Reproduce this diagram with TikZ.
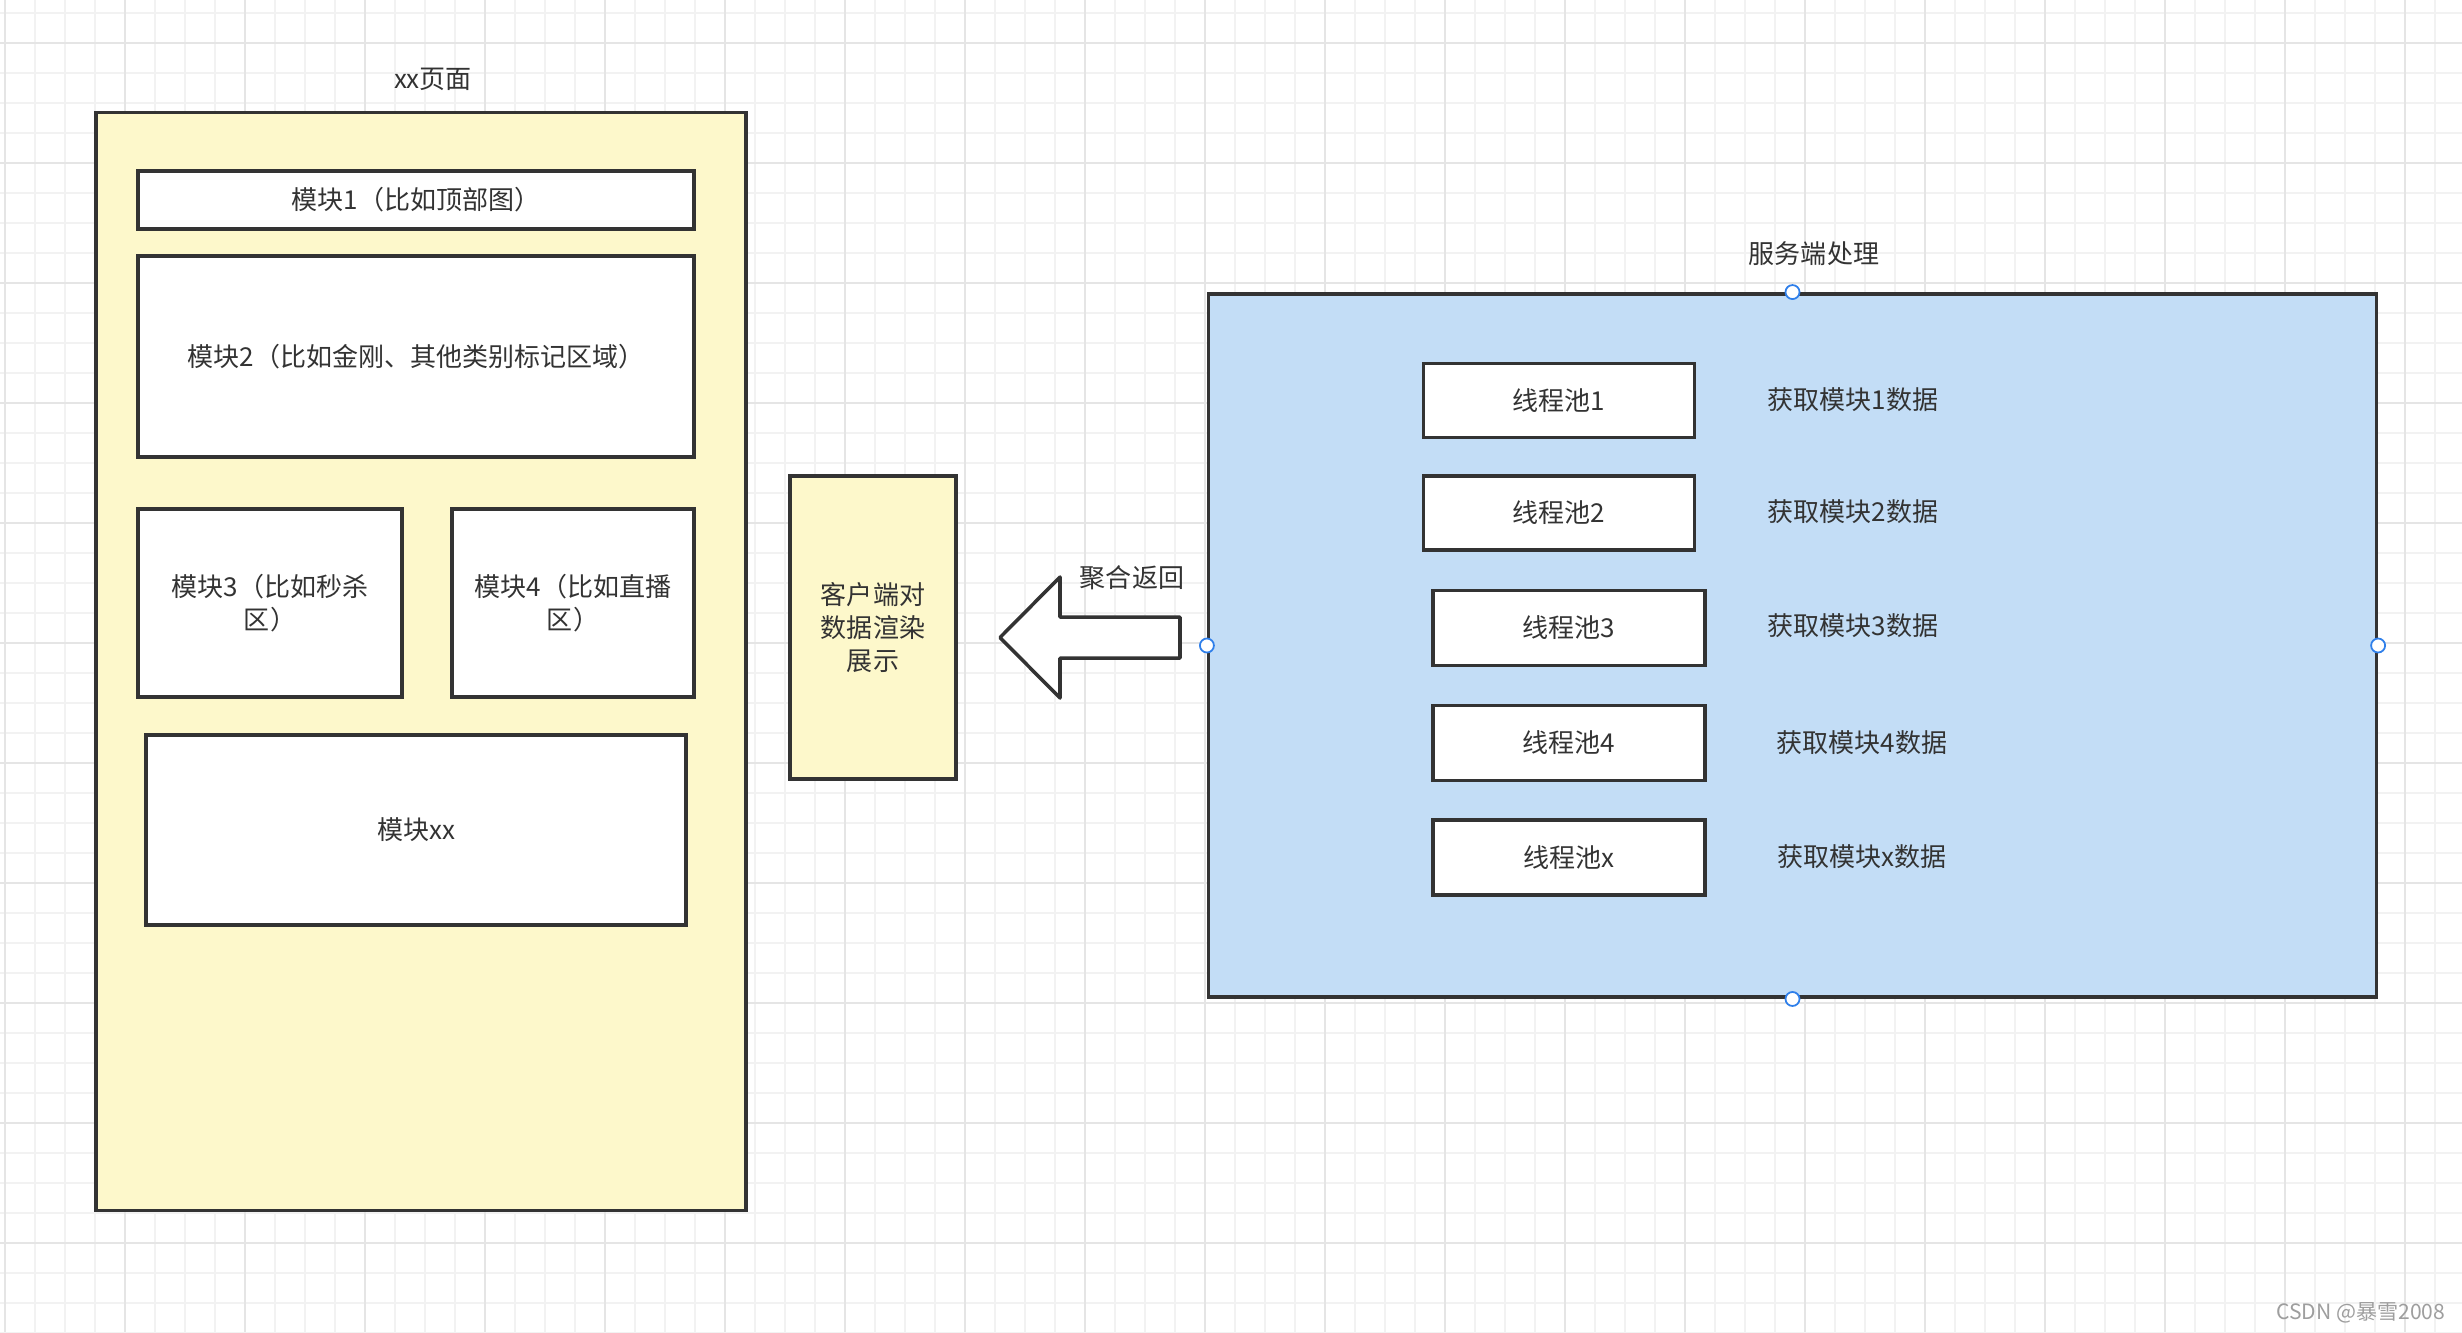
\documentclass[tikz,border=0pt]{standalone}
\usepackage{fontspec}
\setmainfont{Noto Sans CJK SC}
\definecolor{linegray}{HTML}{333333}
\definecolor{pageyellow}{HTML}{FDF8CB}
\definecolor{srvblue}{HTML}{C3DDF6}
\definecolor{gridminor}{HTML}{F2F2F2}
\definecolor{gridmajor}{HTML}{E5E5E5}
\definecolor{handleblue}{HTML}{2F7FEA}
\begin{document}
\begin{tikzpicture}[x=0.01cm,y=-0.01cm,
  txt/.style={text=linegray,font=\fontsize{7.4}{9.4}\selectfont,inner sep=0pt,align=center},
  block/.style={draw=linegray,line width=1pt,fill=white,txt},
  handle/.style={circle,draw=handleblue,fill=white,line width=0.5pt,inner sep=0pt,minimum size=0.14cm}]

\useasboundingbox[fill=white] (0,0) rectangle (2462,1332);

% background grid
\foreach \x in {5,35,...,2465} \draw[gridminor,line width=0.45pt] (\x,0) -- (\x,1332);
\foreach \y in {13,43,...,1333} \draw[gridminor,line width=0.45pt] (0,\y) -- (2462,\y);
\foreach \x in {5,125,...,2465} \draw[gridmajor,line width=0.45pt] (\x,0) -- (\x,1332);
\foreach \y in {43,163,...,1333} \draw[gridmajor,line width=0.45pt] (0,\y) -- (2462,\y);

% client page
\node[block,fill=pageyellow,minimum width=6.5cm,minimum height=10.97cm] (page) at (421,661.5) {};
\node[txt] (pagetitle) at (433,79) {xx页面};
\node[block,minimum width=5.56cm,minimum height=0.58cm] (m1) at (416,200) {模块1（比如顶部图）};
\node[block,minimum width=5.56cm,minimum height=2.01cm] (m2) at (416,356.5) {模块2（比如金刚、其他类别标记区域）};
\node[block,minimum width=2.64cm,minimum height=1.88cm] (m3) at (270,603) {模块3（比如秒杀\\区）};
\node[block,minimum width=2.42cm,minimum height=1.88cm] (m4) at (573,603) {模块4（比如直播\\区）};
\node[block,minimum width=5.4cm,minimum height=1.9cm] (mxx) at (416,830) {模块xx};

\node[block,fill=pageyellow,minimum width=1.66cm,minimum height=3.03cm] (client) at (873,627.5) {客户端对\\数据渲染\\展示};

% server side
\node[block,fill=srvblue,minimum width=11.67cm,minimum height=7.03cm] (srv) at (1792.5,645.5) {};
\node[txt] (srvtitle) at (1814,254) {服务端处理};
\node[handle] (hn) at (srv.north) {};
\node[handle] (hs) at (srv.south) {};
\node[handle] (hw) at (srv.west) {};
\node[handle] (he) at (srv.east) {};

\node[block,minimum width=2.71cm,minimum height=0.74cm] (p1) at (1559,400.5) {线程池1};
\node[block,minimum width=2.71cm,minimum height=0.74cm] (p2) at (1559,513) {线程池2};
\node[block,minimum width=2.72cm,minimum height=0.75cm] (p3) at (1569,628) {线程池3};
\node[block,minimum width=2.72cm,minimum height=0.75cm] (p4) at (1569,743) {线程池4};
\node[block,minimum width=2.72cm,minimum height=0.75cm] (px) at (1569,857.5) {线程池x};

\node[txt] (d1) at (1853,400) {获取模块1数据};
\node[txt] (d2) at (1853,512) {获取模块2数据};
\node[txt] (d3) at (1853,626) {获取模块3数据};
\node[txt] (d4) at (1862,743) {获取模块4数据};
\node[txt] (dx) at (1862,857) {获取模块x数据};

% return arrow
\draw[draw=linegray,line width=1pt,fill=white,line join=round]
  (1180,617) -- (1060,617) -- (1060,577) -- (1000,637.5) -- (1060,698) -- (1060,658) -- (1180,658) -- cycle;
\node[txt] (ret) at (1132,578) {聚合返回};

\node[txt,text=black!38,font=\fontsize{6}{7}\selectfont,anchor=east] (mark) at (2446,1313) {CSDN @暴雪2008};
\end{tikzpicture}
\end{document}
